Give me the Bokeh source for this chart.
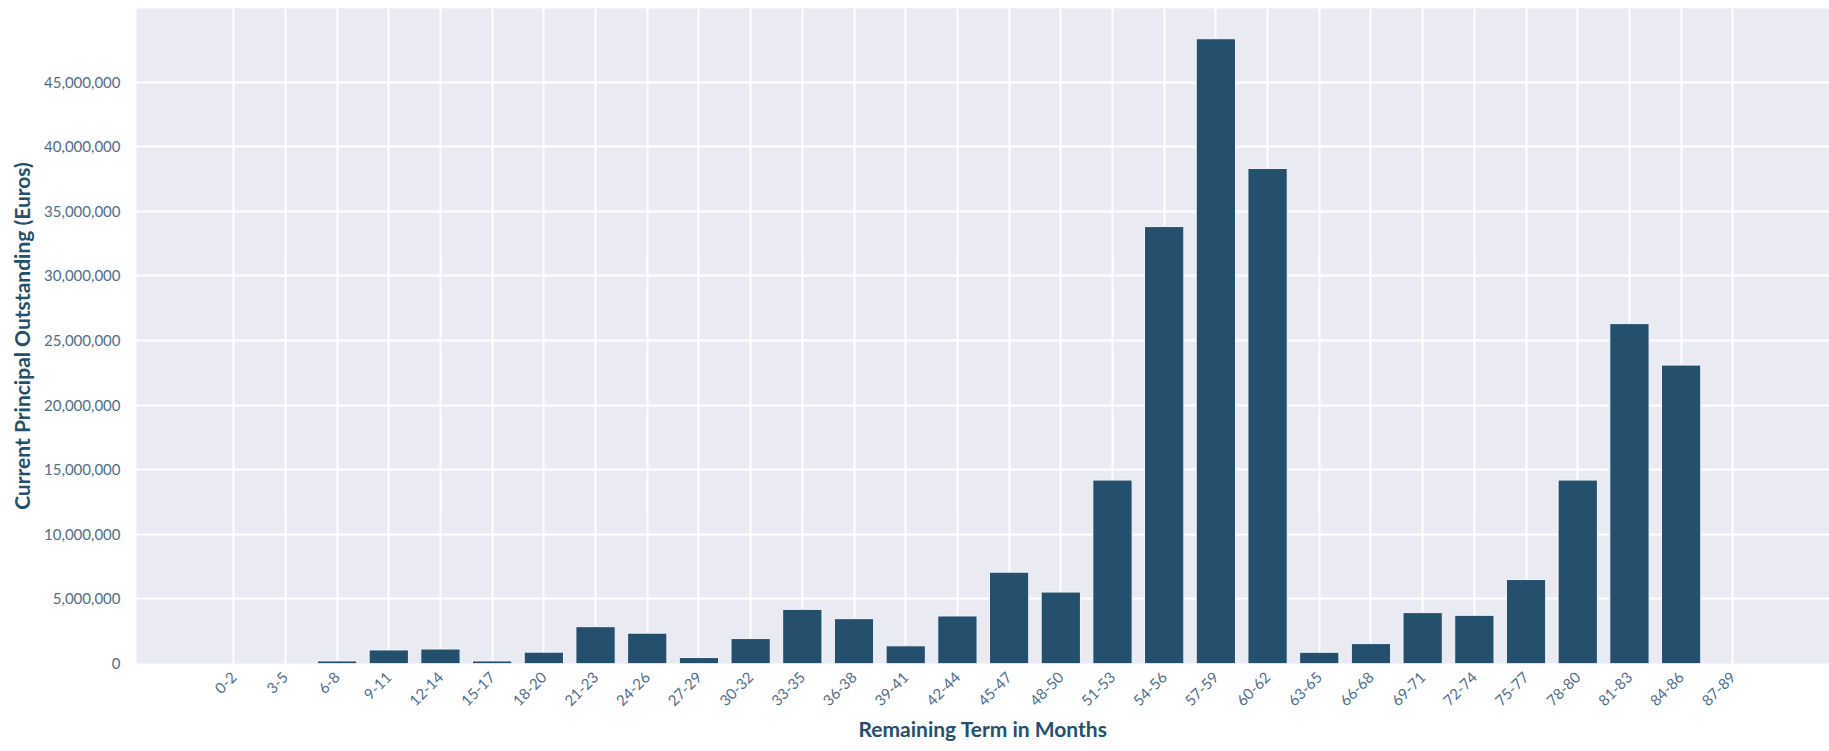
import math
from bokeh.plotting import figure
from bokeh.models import Range1d, FixedTicker, NumeralTickFormatter, ColumnDataSource
from bokeh.embed import file_html
from bokeh.resources import INLINE

categories = ["0-2", "3-5", "6-8", "9-11", "12-14", "15-17", "18-20", "21-23", "24-26",
              "27-29", "30-32", "33-35", "36-38", "39-41", "42-44", "45-47", "48-50",
              "51-53", "54-56", "57-59", "60-62", "63-65", "66-68", "69-71", "72-74",
              "75-77", "78-80", "81-83", "84-86", "87-89"]
principal = [0, 0, 200000, 1050000, 1120000, 200000, 880000, 2850000, 2350000,
             460000, 1930000, 4190000, 3470000, 1370000, 3680000, 7070000, 5530000,
             14200000, 33820000, 48360000, 38320000, 870000, 1540000, 3940000, 3730000,
             6500000, 14200000, 26310000, 23100000, 0]
y_ticks = [0, 5000000, 10000000, 15000000, 20000000, 25000000, 30000000, 35000000,
           40000000, 45000000]

xs = list(range(len(categories)))
src = ColumnDataSource(dict(x=xs, top=principal, cat=categories))

p = figure(width=1829, height=743, output_backend="svg", toolbar_location=None,
           x_range=Range1d(-1.88, 30.87), y_range=Range1d(0, 50.7e6),
           min_border_left=136, min_border_top=8, min_border_right=0, min_border_bottom=0)
p.background_fill_color = "#EAEAF2"
p.border_fill_color = "white"
p.outline_line_color = None

p.vbar(x="x", top="top", width=0.76, source=src, fill_color="#24506E",
       line_color="#F4F6FA", line_width=1)

font = "Lato"
tick_color = "#4F6E8A"
title_color = "#24506E"

p.xaxis.ticker = FixedTicker(ticks=xs)
p.xaxis.major_label_overrides = {i: c for i, c in zip(xs, categories)}
p.xaxis.major_label_orientation = math.pi / 4
p.xaxis.axis_label = "Remaining Term in Months"
p.yaxis.ticker = FixedTicker(ticks=y_ticks)
p.yaxis.formatter = NumeralTickFormatter(format="0,0")
p.yaxis.axis_label = "Current Principal Outstanding (Euros)"

for ax in (p.xaxis, p.yaxis):
    ax.axis_line_color = None
    ax.major_tick_line_color = None
    ax.minor_tick_line_color = None
    ax.major_label_text_font = font
    ax.major_label_text_color = tick_color
    ax.axis_label_text_font = font
    ax.axis_label_text_font_style = "bold"
    ax.axis_label_text_color = title_color
    ax.axis_label_text_font_size = "21px"

p.xaxis.major_label_text_font_size = "15px"
p.yaxis.major_label_text_font_size = "15px"
p.yaxis.major_label_standoff = 10
p.xaxis.major_label_standoff = 5
p.xaxis.axis_label_standoff = 2
p.yaxis.axis_label_standoff = 7

p.xgrid.grid_line_color = "white"
p.xgrid.grid_line_width = 2
p.ygrid.grid_line_color = "white"
p.ygrid.grid_line_width = 2

open("out.html", "w").write(file_html(p, INLINE))
